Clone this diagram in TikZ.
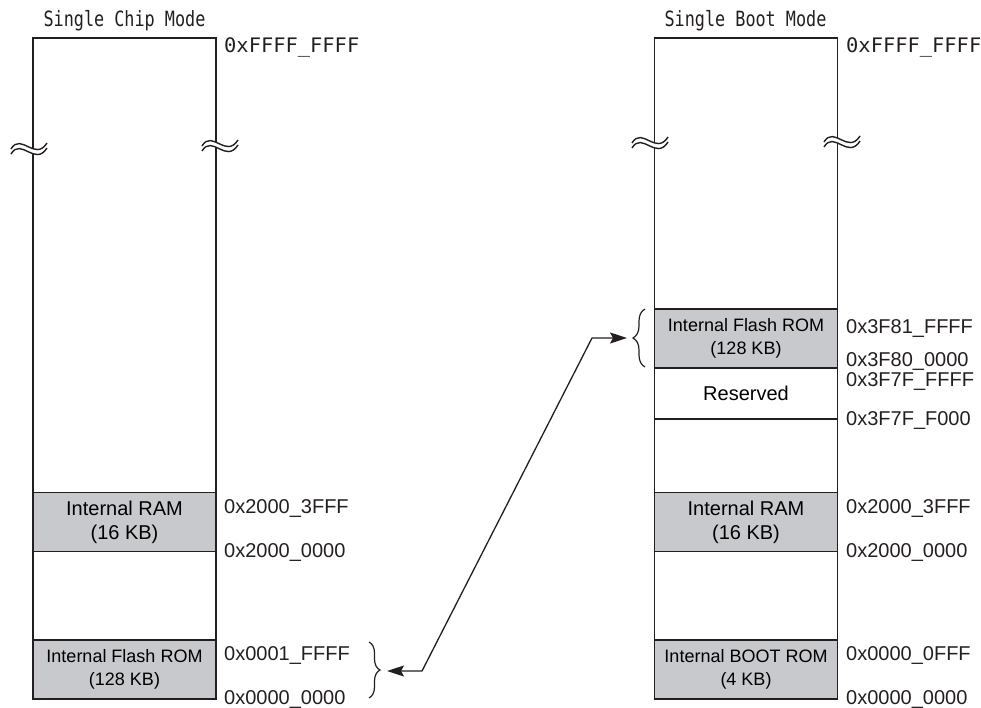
\documentclass[tikz,border=0pt]{standalone}
\usepackage{fontspec}
\setmainfont{Liberation Sans}
\newfontfamily\titlefont[FakeStretch=0.8]{DejaVu Sans Mono}
\newfontfamily\topaddrfont[FakeStretch=1.02]{DejaVu Sans Mono}
\usetikzlibrary{arrows.meta,decorations.pathreplacing,calc}
\definecolor{blockgray}{RGB}{200,201,204}
\definecolor{ink}{RGB}{35,31,32}
\tikzset{
  frame/.style={draw=ink, line width=1.8pt, inner sep=0pt, minimum width=183pt},
  region/.style={draw=ink, line width=1.5pt, fill=blockgray, inner sep=0pt, minimum width=183pt, minimum height=59pt, align=center},
  plainregion/.style={draw=ink, line width=1.5pt, inner sep=0pt, minimum width=183pt, align=center},
  bigtext/.style={font=\fontsize{20}{24}\selectfont},
  smalltext/.style={font=\fontsize{18}{23}\selectfont},
  addr/.style={anchor=west, inner sep=0pt, font=\fontsize{20}{24}\selectfont, text height=14.3pt, text depth=0pt, text=ink},
  topaddr/.style={anchor=west, inner sep=0pt, font=\topaddrfont\fontsize{20}{22}\selectfont, text height=14.5pt, text depth=0pt, text=ink},
  title/.style={inner sep=0pt, font=\titlefont\fontsize{21}{24}\selectfont, text height=15.3pt, text depth=0pt, text=ink},
  wave/.style={draw=ink, line width=1.4pt},
  bracestyle/.style={draw=ink, line width=1.2pt, decorate},
  link/.style={draw=ink, line width=1.3pt, {Stealth[length=17pt,width=11pt,inset=3pt]}-{Stealth[length=17pt,width=11pt,inset=3pt]}},
  brkL/.pic={
    \fill[white] (-18,3) .. controls (-8,-14) and (6,16) .. (18,-3) -- (18,2) .. controls (6,21) and (-8,-9) .. (-18,8) -- cycle;
    \draw[wave] (-18,3) .. controls (-8,-14) and (6,16) .. (18,-3);
    \draw[wave] (-18,8) .. controls (-8,-9) and (6,21) .. (18,2);
  }
}
\begin{document}
\begin{tikzpicture}[x=1pt,y=-1pt]
\useasboundingbox (0,0) rectangle (981,708);

% ---------- Single Chip Mode ----------
\node[title] (titleL) at (124.5,18.5) {Single Chip Mode};
\node[region, bigtext] (ramL) at (124.5,522) {Internal RAM\\(16 KB)};
\node[region, smalltext] (flashL) at (124.5,669.5) {Internal Flash ROM\\(128 KB)};
\node[frame, minimum height=661pt] (memL) at (124.5,368.5) {};
\pic at (29,146) {brkL};
\pic at (220,143) {brkL};

\node[topaddr] (aL0) at (224,45.5) {0xFFFF\_FFFF};
\node[addr] (aL1) at (224,506) {0x2000\_3FFF};
\node[addr] (aL2) at (224,550) {0x2000\_0000};
\node[addr] (aL3) at (224,653) {0x0001\_FFFF};
\node[addr] (aL4) at (224,697) {0x0000\_0000};

% ---------- Single Boot Mode ----------
\node[title] (titleR) at (745.5,18.5) {Single Boot Mode};
\node[region, smalltext] (flashR) at (746,338.5) {Internal Flash ROM\\(128 KB)};
\node[plainregion, bigtext, minimum height=51pt] (resR) at (746,393.5) {Reserved};
\node[region, bigtext] (ramR) at (746,522) {Internal RAM\\(16 KB)};
\node[region, smalltext] (bootR) at (746,669.5) {Internal BOOT ROM\\(4 KB)};
\node[frame, minimum height=661pt] (memR) at (746,368.5) {};
\pic at (650,140) {brkL};
\pic at (842,139) {brkL};

\node[topaddr] (aR0) at (846,45.5) {0xFFFF\_FFFF};
\node[addr] (aR1) at (846,326) {0x3F81\_FFFF};
\node[addr] (aR2) at (846,359.5) {0x3F80\_0000};
\node[addr] (aR3) at (846,379) {0x3F7F\_FFFF};
\node[addr] (aR4) at (846,418) {0x3F7F\_F000};
\node[addr] (aR5) at (846,506) {0x2000\_3FFF};
\node[addr] (aR6) at (846,550) {0x2000\_0000};
\node[addr] (aR7) at (846,653) {0x0000\_0FFF};
\node[addr] (aR8) at (846,697) {0x0000\_0000};

% ---------- braces and link ----------
\draw[bracestyle, decoration={brace, amplitude=11pt}] (369,642) -- (369,698);
\draw[bracestyle, decoration={brace, amplitude=12pt}] (645,367) -- (645,309);
\coordinate (tipL) at (387,671);
\coordinate (tipR) at (627,338);
\draw[link] (tipL) -- ++(35,0) -- ($(tipR)+(-35,0)$) -- (tipR);
\end{tikzpicture}
\end{document}
